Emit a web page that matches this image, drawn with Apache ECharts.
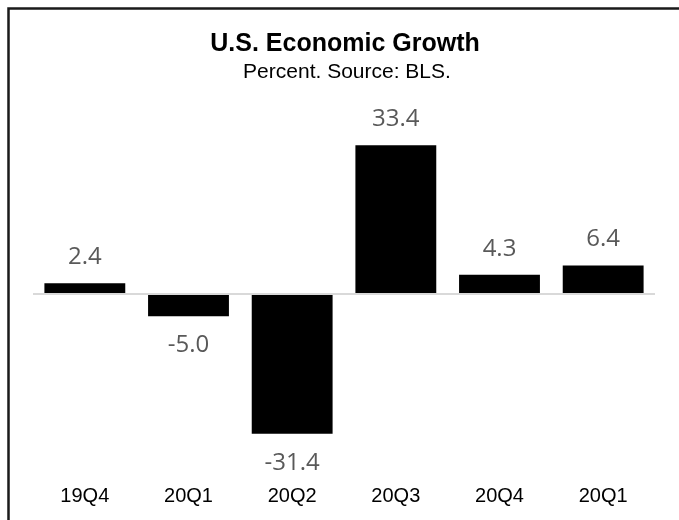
<!DOCTYPE html>
<html>
<head>
<meta charset="utf-8">
<script src="https://cdn.jsdelivr.net/npm/echarts@6/dist/echarts.min.js"></script>
<style>
  html, body { margin: 0; padding: 0; background: #fff; }
  #chart { width: 679px; height: 520px; }
</style>
</head>
<body>
<div id="chart"></div>
<script>
const categories = ['19Q4', '20Q1', '20Q2', '20Q3', '20Q4', '20Q1'];
const growth = [2.4, -5.0, -31.4, 33.4, 4.3, 6.4];
const titleText = 'U.S. Economic Growth';
const subtitleText = 'Percent. Source: BLS.';

const chart = echarts.init(document.getElementById('chart'), null, { renderer: 'canvas' });

const arial = 'Liberation Sans, Arial, sans-serif';

const option = {
  backgroundColor: '#ffffff',
  animation: false,
  graphic: [
    {
      type: 'rect',
      shape: { x: 8.5, y: 8.5, width: 720, height: 600 },
      style: { fill: 'none', stroke: '#1a1a1a', lineWidth: 2.5 },
      silent: true
    },
    {
      type: 'text',
      x: 345, y: 44.5,
      style: { text: titleText, font: 'bold 25px ' + arial, fill: '#000', textAlign: 'center', textVerticalAlign: 'middle' },
      silent: true
    },
    {
      type: 'text',
      x: 347, y: 72,
      style: { text: subtitleText, font: '21px ' + arial, fill: '#000', textAlign: 'center', textVerticalAlign: 'middle' },
      silent: true
    }
  ],
  grid: { left: 33, right: 24, top: 116, height: 356, containLabel: false },
  xAxis: {
    type: 'category',
    data: categories,
    position: 'bottom',
    axisLine: { show: false },
    axisTick: { show: false },
    axisLabel: { margin: 14, fontFamily: arial, fontSize: 20, color: '#000' }
  },
  yAxis: {
    type: 'value',
    min: -40,
    max: 40,
    show: false,
    splitLine: { show: false }
  },
  series: [{
    type: 'bar',
    data: growth.map(v => ({
      value: v,
      label: v >= 0 ? { position: 'top', distance: 14 } : { position: 'bottom', distance: 17 }
    })),
    barWidth: '78%',
    itemStyle: { color: '#000' },
    label: {
      show: true,
      fontFamily: 'Open Sans, sans-serif',
      fontSize: 24,
      color: '#595959',
      formatter: p => p.value.toFixed(1)
    },
    markLine: {
      silent: true,
      symbol: 'none',
      label: { show: false },
      lineStyle: { color: '#d9d9d9', width: 2, type: 'solid' },
      data: [{ yAxis: 0 }]
    }
  }]
};
chart.setOption(option);
</script>
</body>
</html>
